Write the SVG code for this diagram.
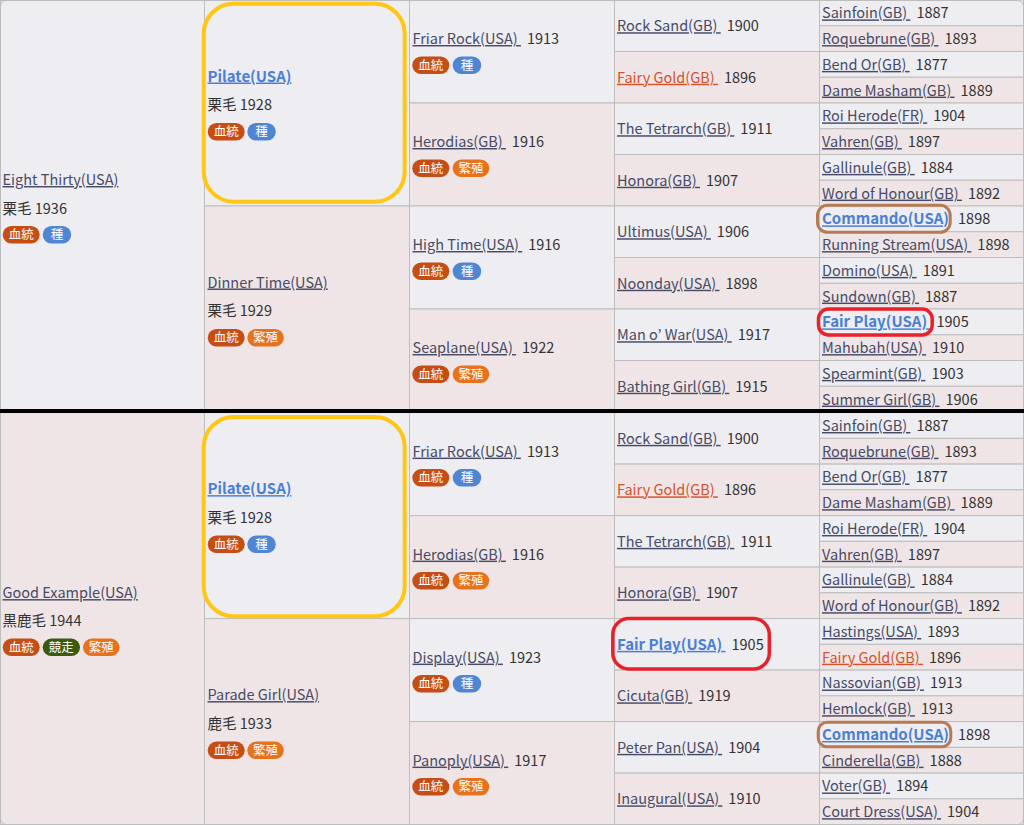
<svg xmlns="http://www.w3.org/2000/svg" width="1024" height="825" viewBox="0 0 1024 825">
<style>
.s{fill:#eeedf2;stroke:#bdbdbd;stroke-width:1}
.d{fill:#efe5e6;stroke:#bdbdbd;stroke-width:1}
.t{font-family:"Noto Sans CJK JP","Noto Sans",sans-serif;font-size:14.5px;fill:#333}
.l{fill:#474b66;text-decoration:underline}
.b{fill:#4a7fd6;font-weight:bold;font-size:15px;text-decoration:underline}
.o{fill:#d4532a;text-decoration:underline}
.bt{font-family:"Noto Sans CJK JP",sans-serif;font-size:12.5px;fill:#fff;text-anchor:middle}
.k1{fill:#c64e14}.k2{fill:#4e86d4}.k3{fill:#e8711c}.k4{fill:#3c5a0c}
.hl{fill:none}
</style>
<rect x="0.5" y="0.5" width="1023" height="824" rx="6" fill="#eeedf2" stroke="#bdbdbd"/>

<!-- ===== TOP HALF ===== -->
<g id="top">
<g id="t1-0"><rect class="s" x="0.5" y="0.5" width="204" height="411.5"/>
<text class="t" x="2.5" y="185"><tspan class="l">Eight Thirty(USA)</tspan></text>
<text class="t" x="2.5" y="213.5">栗毛 1936</text>
<rect class="k1" x="2.7" y="226" width="37" height="17.5" rx="8.75"/><text class="bt" x="21.2" y="239">血統</text>
<rect class="k2" x="42.7" y="226" width="28.5" height="17.5" rx="8.75"/><text class="bt" x="56.95" y="239">種</text>
</g>
<g id="t2-0"><rect class="s" x="204.5" y="0" width="205" height="206"/>
<text class="t" x="207.5" y="81.5"><tspan class="b">Pilate(USA)</tspan></text>
<text class="t" x="207.5" y="110.3">栗毛 1928</text>
<rect class="k1" x="207.7" y="123" width="37" height="17.5" rx="8.75"/><text class="bt" x="226.2" y="136">血統</text>
<rect class="k2" x="247.3" y="123" width="28.5" height="17.5" rx="8.75"/><text class="bt" x="261.55" y="136">種</text>
</g>
<g id="t2-1"><rect class="d" x="204.5" y="206" width="205" height="206"/>
<text class="t" x="207.5" y="287.5"><tspan class="l">Dinner Time(USA)</tspan></text>
<text class="t" x="207.5" y="316.3">栗毛 1929</text>
<rect class="k1" x="207.7" y="329" width="37" height="17.5" rx="8.75"/><text class="bt" x="226.2" y="342">血統</text>
<rect class="k3" x="247.3" y="329" width="36.5" height="17.5" rx="8.75"/><text class="bt" x="265.55" y="342">繁殖</text>
</g>
<g id="t3-0"><rect class="s" x="409.5" y="0" width="205" height="103"/>
<text class="t" x="412.5" y="44"><tspan class="l">Friar Rock(USA)&#160;</tspan><tspan dx="6">1913</tspan></text>
<rect class="k1" x="412.3" y="56.5" width="37" height="17.5" rx="8.75"/><text class="bt" x="430.8" y="69.5">血統</text>
<rect class="k2" x="452.7" y="56.5" width="28.5" height="17.5" rx="8.75"/><text class="bt" x="466.95" y="69.5">種</text>
</g>
<g id="t3-1"><rect class="d" x="409.5" y="103" width="205" height="103"/>
<text class="t" x="412.5" y="147"><tspan class="l">Herodias(GB)&#160;</tspan><tspan dx="6">1916</tspan></text>
<rect class="k1" x="412.3" y="159.5" width="37" height="17.5" rx="8.75"/><text class="bt" x="430.8" y="172.5">血統</text>
<rect class="k3" x="452.7" y="159.5" width="36.5" height="17.5" rx="8.75"/><text class="bt" x="470.95" y="172.5">繁殖</text>
</g>
<g id="t3-2"><rect class="s" x="409.5" y="206" width="205" height="103"/>
<text class="t" x="412.5" y="250"><tspan class="l">High Time(USA)&#160;</tspan><tspan dx="6">1916</tspan></text>
<rect class="k1" x="412.3" y="262.5" width="37" height="17.5" rx="8.75"/><text class="bt" x="430.8" y="275.5">血統</text>
<rect class="k2" x="452.7" y="262.5" width="28.5" height="17.5" rx="8.75"/><text class="bt" x="466.95" y="275.5">種</text>
</g>
<g id="t3-3"><rect class="d" x="409.5" y="309" width="205" height="103"/>
<text class="t" x="412.5" y="353"><tspan class="l">Seaplane(USA)&#160;</tspan><tspan dx="6">1922</tspan></text>
<rect class="k1" x="412.3" y="365.5" width="37" height="17.5" rx="8.75"/><text class="bt" x="430.8" y="378.5">血統</text>
<rect class="k3" x="452.7" y="365.5" width="36.5" height="17.5" rx="8.75"/><text class="bt" x="470.95" y="378.5">繁殖</text>
</g>
<g id="t4-0"><rect class="s" x="614.5" y="0" width="205" height="51.5"/><text class="t" x="617" y="31.25"><tspan class="l">Rock Sand(GB)&#160;</tspan><tspan dx="6">1900</tspan></text></g>
<g id="t4-1"><rect class="d" x="614.5" y="51.5" width="205" height="51.5"/><text class="t" x="617" y="82.75"><tspan class="o">Fairy Gold(GB)&#160;</tspan><tspan dx="6">1896</tspan></text></g>
<g id="t4-2"><rect class="s" x="614.5" y="103" width="205" height="51.5"/><text class="t" x="617" y="134.25"><tspan class="l">The Tetrarch(GB)&#160;</tspan><tspan dx="6">1911</tspan></text></g>
<g id="t4-3"><rect class="d" x="614.5" y="154.5" width="205" height="51.5"/><text class="t" x="617" y="185.75"><tspan class="l">Honora(GB)&#160;</tspan><tspan dx="6">1907</tspan></text></g>
<g id="t4-4"><rect class="s" x="614.5" y="206" width="205" height="51.5"/><text class="t" x="617" y="237.25"><tspan class="l">Ultimus(USA)&#160;</tspan><tspan dx="6">1906</tspan></text></g>
<g id="t4-5"><rect class="d" x="614.5" y="257.5" width="205" height="51.5"/><text class="t" x="617" y="288.75"><tspan class="l">Noonday(USA)&#160;</tspan><tspan dx="6">1898</tspan></text></g>
<g id="t4-6"><rect class="s" x="614.5" y="309" width="205" height="51.5"/><text class="t" x="617" y="340.25"><tspan class="l">Man o’ War(USA)&#160;</tspan><tspan dx="6">1917</tspan></text></g>
<g id="t4-7"><rect class="d" x="614.5" y="360.5" width="205" height="51.5"/><text class="t" x="617" y="391.75"><tspan class="l">Bathing Girl(GB)&#160;</tspan><tspan dx="6">1915</tspan></text></g>
<g id="t5-0"><rect class="s" x="819.5" y="0" width="204" height="25.75"/><text class="t" x="822" y="18.4"><tspan class="l">Sainfoin(GB)&#160;</tspan><tspan dx="6">1887</tspan></text></g>
<g id="t5-1"><rect class="d" x="819.5" y="25.75" width="204" height="25.75"/><text class="t" x="822" y="44.1"><tspan class="l">Roquebrune(GB)&#160;</tspan><tspan dx="6">1893</tspan></text></g>
<g id="t5-2"><rect class="s" x="819.5" y="51.5" width="204" height="25.75"/><text class="t" x="822" y="69.9"><tspan class="l">Bend Or(GB)&#160;</tspan><tspan dx="6">1877</tspan></text></g>
<g id="t5-3"><rect class="d" x="819.5" y="77.25" width="204" height="25.75"/><text class="t" x="822" y="95.6"><tspan class="l">Dame Masham(GB)&#160;</tspan><tspan dx="6">1889</tspan></text></g>
<g id="t5-4"><rect class="s" x="819.5" y="103" width="204" height="25.75"/><text class="t" x="822" y="121.4"><tspan class="l">Roi Herode(FR)&#160;</tspan><tspan dx="6">1904</tspan></text></g>
<g id="t5-5"><rect class="d" x="819.5" y="128.75" width="204" height="25.75"/><text class="t" x="822" y="147.1"><tspan class="l">Vahren(GB)&#160;</tspan><tspan dx="6">1897</tspan></text></g>
<g id="t5-6"><rect class="s" x="819.5" y="154.5" width="204" height="25.75"/><text class="t" x="822" y="172.9"><tspan class="l">Gallinule(GB)&#160;</tspan><tspan dx="6">1884</tspan></text></g>
<g id="t5-7"><rect class="d" x="819.5" y="180.25" width="204" height="25.75"/><text class="t" x="822" y="198.6"><tspan class="l">Word of Honour(GB)&#160;</tspan><tspan dx="6">1892</tspan></text></g>
<g id="t5-8"><rect class="s" x="819.5" y="206" width="204" height="25.75"/><text class="t" x="822" y="224.4"><tspan class="b">Commando(USA)</tspan><tspan dx="9">1898</tspan></text></g>
<g id="t5-9"><rect class="d" x="819.5" y="231.75" width="204" height="25.75"/><text class="t" x="822" y="250.1"><tspan class="l">Running Stream(USA)&#160;</tspan><tspan dx="6">1898</tspan></text></g>
<g id="t5-10"><rect class="s" x="819.5" y="257.5" width="204" height="25.75"/><text class="t" x="822" y="275.9"><tspan class="l">Domino(USA)&#160;</tspan><tspan dx="6">1891</tspan></text></g>
<g id="t5-11"><rect class="d" x="819.5" y="283.25" width="204" height="25.75"/><text class="t" x="822" y="301.6"><tspan class="l">Sundown(GB)&#160;</tspan><tspan dx="6">1887</tspan></text></g>
<g id="t5-12"><rect class="s" x="819.5" y="309" width="204" height="25.75"/><text class="t" x="822" y="327.4"><tspan class="b">Fair Play(USA)&#160;</tspan><tspan dx="6">1905</tspan></text></g>
<g id="t5-13"><rect class="d" x="819.5" y="334.75" width="204" height="25.75"/><text class="t" x="822" y="353.1"><tspan class="l">Mahubah(USA)&#160;</tspan><tspan dx="6">1910</tspan></text></g>
<g id="t5-14"><rect class="s" x="819.5" y="360.5" width="204" height="25.75"/><text class="t" x="822" y="378.9"><tspan class="l">Spearmint(GB)&#160;</tspan><tspan dx="6">1903</tspan></text></g>
<g id="t5-15"><rect class="d" x="819.5" y="386.25" width="204" height="25.75"/><text class="t" x="822" y="404.6"><tspan class="l">Summer Girl(GB)&#160;</tspan><tspan dx="6">1906</tspan></text></g>
</g>

<!-- ===== BOTTOM HALF ===== -->
<g id="bottom" transform="translate(0,412.6)">
<g id="b1-0"><rect class="d" x="0.5" y="0" width="204" height="411.9"/>
<text class="t" x="2.5" y="185.5"><tspan class="l">Good Example(USA)</tspan></text>
<text class="t" x="2.5" y="213.8">黒鹿毛 1944</text>
<rect class="k1" x="2.7" y="226" width="37" height="17.5" rx="8.75"/><text class="bt" x="21.2" y="239">血統</text>
<rect class="k4" x="42.7" y="226" width="37.3" height="17.5" rx="8.75"/><text class="bt" x="61.35" y="239">競走</text>
<rect class="k3" x="83" y="226" width="36.5" height="17.5" rx="8.75"/><text class="bt" x="101.25" y="239">繁殖</text>
</g>
<g id="b2-0"><rect class="s" x="204.5" y="0" width="205" height="206"/>
<text class="t" x="207.5" y="81.5"><tspan class="b">Pilate(USA)</tspan></text>
<text class="t" x="207.5" y="110.3">栗毛 1928</text>
<rect class="k1" x="207.7" y="123" width="37" height="17.5" rx="8.75"/><text class="bt" x="226.2" y="136">血統</text>
<rect class="k2" x="247.3" y="123" width="28.5" height="17.5" rx="8.75"/><text class="bt" x="261.55" y="136">種</text>
</g>
<g id="b2-1"><rect class="d" x="204.5" y="206" width="205" height="206"/>
<text class="t" x="207.5" y="287.5"><tspan class="l">Parade Girl(USA)</tspan></text>
<text class="t" x="207.5" y="316.3">鹿毛 1933</text>
<rect class="k1" x="207.7" y="329" width="37" height="17.5" rx="8.75"/><text class="bt" x="226.2" y="342">血統</text>
<rect class="k3" x="247.3" y="329" width="36.5" height="17.5" rx="8.75"/><text class="bt" x="265.55" y="342">繁殖</text>
</g>
<g id="b3-0"><rect class="s" x="409.5" y="0" width="205" height="103"/>
<text class="t" x="412.5" y="44"><tspan class="l">Friar Rock(USA)&#160;</tspan><tspan dx="6">1913</tspan></text>
<rect class="k1" x="412.3" y="56.5" width="37" height="17.5" rx="8.75"/><text class="bt" x="430.8" y="69.5">血統</text>
<rect class="k2" x="452.7" y="56.5" width="28.5" height="17.5" rx="8.75"/><text class="bt" x="466.95" y="69.5">種</text>
</g>
<g id="b3-1"><rect class="d" x="409.5" y="103" width="205" height="103"/>
<text class="t" x="412.5" y="147"><tspan class="l">Herodias(GB)&#160;</tspan><tspan dx="6">1916</tspan></text>
<rect class="k1" x="412.3" y="159.5" width="37" height="17.5" rx="8.75"/><text class="bt" x="430.8" y="172.5">血統</text>
<rect class="k3" x="452.7" y="159.5" width="36.5" height="17.5" rx="8.75"/><text class="bt" x="470.95" y="172.5">繁殖</text>
</g>
<g id="b3-2"><rect class="s" x="409.5" y="206" width="205" height="103"/>
<text class="t" x="412.5" y="250"><tspan class="l">Display(USA)&#160;</tspan><tspan dx="6">1923</tspan></text>
<rect class="k1" x="412.3" y="262.5" width="37" height="17.5" rx="8.75"/><text class="bt" x="430.8" y="275.5">血統</text>
<rect class="k2" x="452.7" y="262.5" width="28.5" height="17.5" rx="8.75"/><text class="bt" x="466.95" y="275.5">種</text>
</g>
<g id="b3-3"><rect class="d" x="409.5" y="309" width="205" height="103"/>
<text class="t" x="412.5" y="353"><tspan class="l">Panoply(USA)&#160;</tspan><tspan dx="6">1917</tspan></text>
<rect class="k1" x="412.3" y="365.5" width="37" height="17.5" rx="8.75"/><text class="bt" x="430.8" y="378.5">血統</text>
<rect class="k3" x="452.7" y="365.5" width="36.5" height="17.5" rx="8.75"/><text class="bt" x="470.95" y="378.5">繁殖</text>
</g>
<g id="b4-0"><rect class="s" x="614.5" y="0" width="205" height="51.5"/><text class="t" x="617" y="31.25"><tspan class="l">Rock Sand(GB)&#160;</tspan><tspan dx="6">1900</tspan></text></g>
<g id="b4-1"><rect class="d" x="614.5" y="51.5" width="205" height="51.5"/><text class="t" x="617" y="82.75"><tspan class="o">Fairy Gold(GB)&#160;</tspan><tspan dx="6">1896</tspan></text></g>
<g id="b4-2"><rect class="s" x="614.5" y="103" width="205" height="51.5"/><text class="t" x="617" y="134.25"><tspan class="l">The Tetrarch(GB)&#160;</tspan><tspan dx="6">1911</tspan></text></g>
<g id="b4-3"><rect class="d" x="614.5" y="154.5" width="205" height="51.5"/><text class="t" x="617" y="185.75"><tspan class="l">Honora(GB)&#160;</tspan><tspan dx="6">1907</tspan></text></g>
<g id="b4-4"><rect class="s" x="614.5" y="206" width="205" height="51.5"/><text class="t" x="617" y="237.25"><tspan class="b">Fair Play(USA)&#160;</tspan><tspan dx="6">1905</tspan></text></g>
<g id="b4-5"><rect class="d" x="614.5" y="257.5" width="205" height="51.5"/><text class="t" x="617" y="288.75"><tspan class="l">Cicuta(GB)&#160;</tspan><tspan dx="6">1919</tspan></text></g>
<g id="b4-6"><rect class="s" x="614.5" y="309" width="205" height="51.5"/><text class="t" x="617" y="340.25"><tspan class="l">Peter Pan(USA)&#160;</tspan><tspan dx="6">1904</tspan></text></g>
<g id="b4-7"><rect class="d" x="614.5" y="360.5" width="205" height="51.5"/><text class="t" x="617" y="391.75"><tspan class="l">Inaugural(USA)&#160;</tspan><tspan dx="6">1910</tspan></text></g>
<g id="b5-0"><rect class="s" x="819.5" y="0" width="204" height="25.75"/><text class="t" x="822" y="18.4"><tspan class="l">Sainfoin(GB)&#160;</tspan><tspan dx="6">1887</tspan></text></g>
<g id="b5-1"><rect class="d" x="819.5" y="25.75" width="204" height="25.75"/><text class="t" x="822" y="44.1"><tspan class="l">Roquebrune(GB)&#160;</tspan><tspan dx="6">1893</tspan></text></g>
<g id="b5-2"><rect class="s" x="819.5" y="51.5" width="204" height="25.75"/><text class="t" x="822" y="69.9"><tspan class="l">Bend Or(GB)&#160;</tspan><tspan dx="6">1877</tspan></text></g>
<g id="b5-3"><rect class="d" x="819.5" y="77.25" width="204" height="25.75"/><text class="t" x="822" y="95.6"><tspan class="l">Dame Masham(GB)&#160;</tspan><tspan dx="6">1889</tspan></text></g>
<g id="b5-4"><rect class="s" x="819.5" y="103" width="204" height="25.75"/><text class="t" x="822" y="121.4"><tspan class="l">Roi Herode(FR)&#160;</tspan><tspan dx="6">1904</tspan></text></g>
<g id="b5-5"><rect class="d" x="819.5" y="128.75" width="204" height="25.75"/><text class="t" x="822" y="147.1"><tspan class="l">Vahren(GB)&#160;</tspan><tspan dx="6">1897</tspan></text></g>
<g id="b5-6"><rect class="s" x="819.5" y="154.5" width="204" height="25.75"/><text class="t" x="822" y="172.9"><tspan class="l">Gallinule(GB)&#160;</tspan><tspan dx="6">1884</tspan></text></g>
<g id="b5-7"><rect class="d" x="819.5" y="180.25" width="204" height="25.75"/><text class="t" x="822" y="198.6"><tspan class="l">Word of Honour(GB)&#160;</tspan><tspan dx="6">1892</tspan></text></g>
<g id="b5-8"><rect class="s" x="819.5" y="206" width="204" height="25.75"/><text class="t" x="822" y="224.4"><tspan class="l">Hastings(USA)&#160;</tspan><tspan dx="6">1893</tspan></text></g>
<g id="b5-9"><rect class="d" x="819.5" y="231.75" width="204" height="25.75"/><text class="t" x="822" y="250.1"><tspan class="o">Fairy Gold(GB)&#160;</tspan><tspan dx="6">1896</tspan></text></g>
<g id="b5-10"><rect class="s" x="819.5" y="257.5" width="204" height="25.75"/><text class="t" x="822" y="275.9"><tspan class="l">Nassovian(GB)&#160;</tspan><tspan dx="6">1913</tspan></text></g>
<g id="b5-11"><rect class="d" x="819.5" y="283.25" width="204" height="25.75"/><text class="t" x="822" y="301.6"><tspan class="l">Hemlock(GB)&#160;</tspan><tspan dx="6">1913</tspan></text></g>
<g id="b5-12"><rect class="s" x="819.5" y="309" width="204" height="25.75"/><text class="t" x="822" y="327.4"><tspan class="b">Commando(USA)</tspan><tspan dx="9">1898</tspan></text></g>
<g id="b5-13"><rect class="d" x="819.5" y="334.75" width="204" height="25.75"/><text class="t" x="822" y="353.1"><tspan class="l">Cinderella(GB)&#160;</tspan><tspan dx="6">1888</tspan></text></g>
<g id="b5-14"><rect class="s" x="819.5" y="360.5" width="204" height="25.75"/><text class="t" x="822" y="378.9"><tspan class="l">Voter(GB)&#160;</tspan><tspan dx="6">1894</tspan></text></g>
<g id="b5-15"><rect class="d" x="819.5" y="386.25" width="204" height="25.75"/><text class="t" x="822" y="404.6"><tspan class="l">Court Dress(USA)&#160;</tspan><tspan dx="6">1904</tspan></text></g>
</g>

<!-- outer border, divider -->
<g id="connectors">
<rect x="0.5" y="0.5" width="1023" height="824" rx="6" fill="none" stroke="#bdbdbd"/>
<rect x="0" y="409" width="1024" height="4" fill="#000"/>
</g>

<!-- highlights -->
<g id="highlights" class="hl">
<rect x="203.7" y="3.7" width="201" height="198" rx="30" stroke="#ffc613" stroke-width="4" fill="none"/>
<rect x="203.7" y="417" width="201" height="199.3" rx="30" stroke="#ffc613" stroke-width="4" fill="none"/>
<rect x="817.5" y="205.3" width="132.7" height="27" rx="10" stroke="#b87a52" stroke-width="3" fill="none"/>
<rect x="818.2" y="722.2" width="132.6" height="24.6" rx="9" stroke="#b87a52" stroke-width="3" fill="none"/>
<rect x="818.5" y="309" width="113.7" height="26" rx="10" stroke="#e8212b" stroke-width="3.5" fill="none"/>
<rect x="612.8" y="618.5" width="156.5" height="50.5" rx="16" stroke="#e8212b" stroke-width="3.5" fill="none"/>
</g>
</svg>
